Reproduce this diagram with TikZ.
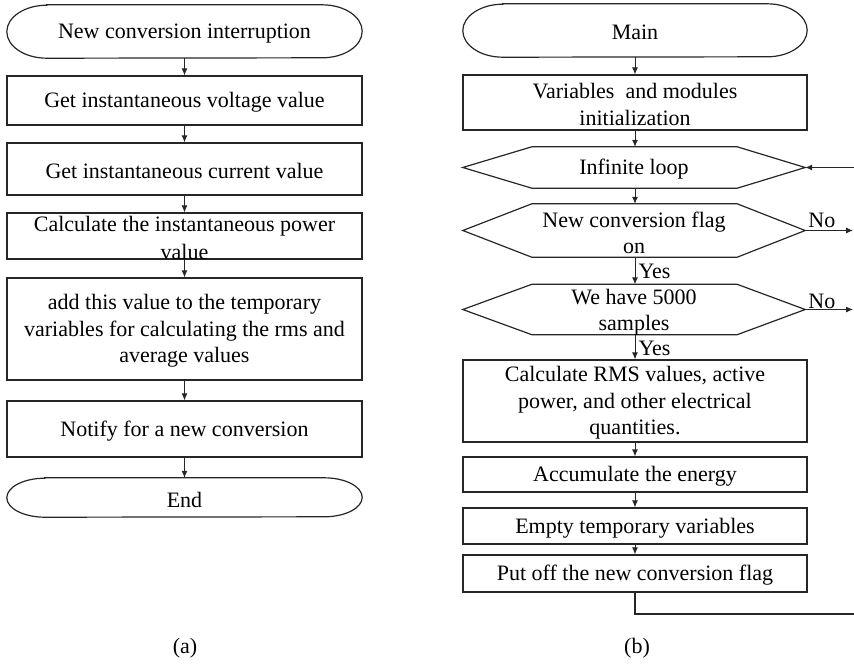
\documentclass[tikz,border=0pt]{standalone}
\usepackage{fontspec}
\setmainfont{Liberation Serif}
\usetikzlibrary{arrows.meta}
\newcommand{\termout}[2]{%
  \draw[ln] ([xshift=#2]#1.north west) -- ([xshift=-#2]#1.north east)
    arc[start angle=90,end angle=-90,x radius=#2,y radius=0.5*\pgfkeysvalueof{/tikz/termh}]
    -- ([xshift=#2]#1.south west)
    arc[start angle=270,end angle=90,x radius=#2,y radius=0.5*\pgfkeysvalueof{/tikz/termh}] -- cycle;}
\newcommand{\hexout}[1]{%
  \draw[ln] (#1.west) -- ([xshift=69pt]#1.north west) -- ([xshift=-68pt]#1.north east)
    -- (#1.east) -- ([xshift=-68pt]#1.south east) -- ([xshift=69pt]#1.south west) -- cycle;}
\begin{document}
\begin{tikzpicture}[x=1pt,y=1pt,
  every node/.style={font=\fontsize{22}{26.5}\selectfont},
  termh/.initial=53pt,
  ln/.style={line width=1.2pt, line join=miter, draw=black!85},
  box/.style={draw=black!85, line width=1.2pt, rectangle, inner sep=0pt},
  ghost/.style={rectangle, inner sep=0pt},
  txt/.style={align=center, inner sep=0pt, yshift=-2pt},
  arr/.style={line width=1pt, draw=black!85, -{Latex[length=7pt,width=6pt]}}]
\useasboundingbox (0,0) rectangle (854,-665);

% ---------- (a) ----------
\node[ghost, minimum width=355pt, minimum height=53pt] (t1) at (184.5,-31.5) {};
\termout{t1}{40pt}
\node[txt] at (t1) {New conversion interruption};

\node[box, minimum width=355pt, minimum height=49pt] (a1) at (184.5,-100.5) {};
\node[txt] at (a1) {Get instantaneous voltage value};

\node[box, minimum width=355pt, minimum height=52pt] (a2) at (184.5,-169) {};
\node[txt] at (a2) {Get instantaneous current value};

\node[box, minimum width=355pt, minimum height=46pt] (a3) at (184.5,-236) {};
\node[txt, font=\fontsize{22}{27.5}\selectfont] at (a3) {Calculate the instantaneous power\\value};

\node[box, minimum width=355pt, minimum height=102pt] (a4) at (184.5,-329) {};
\node[txt] at (a4) {add this value to the temporary\\variables for calculating the rms and\\average values};

\node[box, minimum width=355pt, minimum height=56pt] (a5) at (184.5,-429) {};
\node[txt] at (a5) {Notify for a new conversion};

\begin{scope}[termh=39pt]
\node[ghost, minimum width=355pt, minimum height=39pt] (t2) at (184.5,-497.5) {};
\termout{t2}{38pt}
\end{scope}
\node[txt] at (t2) {End};

\draw[arr] (t1.south) -- (a1.north);
\draw[arr] (a1.south) -- (a2.north);
\draw[arr] (a2.south) -- (a3.north);
\draw[arr] (a3.south) -- (a4.north);
\draw[arr] (a4.south) -- (a5.north);
\draw[arr] (a5.south) -- (t2.north);

\node[txt] (capa) at (185,-646) {(a)};

% ---------- (b) ----------
\node[ghost, minimum width=344pt, minimum height=53pt] (m) at (635,-30.5) {};
\termout{m}{40pt}
\node[txt] at (m) {Main};

\node[box, minimum width=344pt, minimum height=55pt] (r1) at (635,-102.5) {};
\node[txt] at (r1) {Variables~ and modules\\initialization};

\node[ghost, minimum width=342pt, minimum height=41pt] (h1) at (634,-167.5) {};
\hexout{h1}
\node[txt] at (h1) {Infinite loop};

\node[ghost, minimum width=342pt, minimum height=53pt] (h2) at (634,-230.5) {};
\hexout{h2}
\node[txt] at (634,-231) {New conversion flag\\on};

\node[ghost, minimum width=342pt, minimum height=50pt] (h3) at (634,-309.5) {};
\hexout{h3}
\node[txt] at (634,-310) {We have 5000\\samples};

\node[box, minimum width=344pt, minimum height=82pt] (r2) at (635,-401) {};
\node[txt] at (r2) {Calculate RMS values, active\\power, and other electrical\\quantities.};

\node[box, minimum width=344pt, minimum height=35pt] (r3) at (635,-474.5) {};
\node[txt] at (r3) {Accumulate the energy};

\node[box, minimum width=344pt, minimum height=36pt] (r4) at (635,-526) {};
\node[txt] at (r4) {Empty temporary variables};

\node[box, minimum width=344pt, minimum height=37pt] (r5) at (635,-573.5) {};
\node[txt] at (r5) {Put off the new conversion flag};

\draw[arr] (m.south) -- (m.south |- r1.north);
\draw[arr] (r1.south) -- (r1.south |- h1.north);
\draw[arr] (r1.south |- h1.south) -- (r1.south |- h2.north);
\draw[arr] (r1.south |- h2.south) -- node[right, inner sep=3pt, yshift=-1pt] {Yes} (r1.south |- h3.north);
\draw[arr] (r1.south |- h3.south) -- node[right, inner sep=3pt, yshift=-1pt] {Yes} (r2.north);
\draw[arr] (r2.south) -- (r3.north);
\draw[arr] (r3.south) -- (r4.north);
\draw[arr] (r4.south) -- (r5.north);

\coordinate (inR) at (854,-167.5);
\coordinate (no1) at (853,-230.5);
\coordinate (no2) at (853,-309.5);
\coordinate (back) at (854,-614);
\draw[arr] (inR) -- (h1.east);
\draw[arr] (h2.east) -- node[above, pos=0.35, inner sep=2pt] {No} (no1);
\draw[arr] (h3.east) -- node[above, pos=0.35, inner sep=0pt] {No} (no2);
\draw[ln] (r5.south) -- (r5.south |- back) -- (back);

\node[txt] (capb) at (637,-646) {(b)};
\end{tikzpicture}
\end{document}
